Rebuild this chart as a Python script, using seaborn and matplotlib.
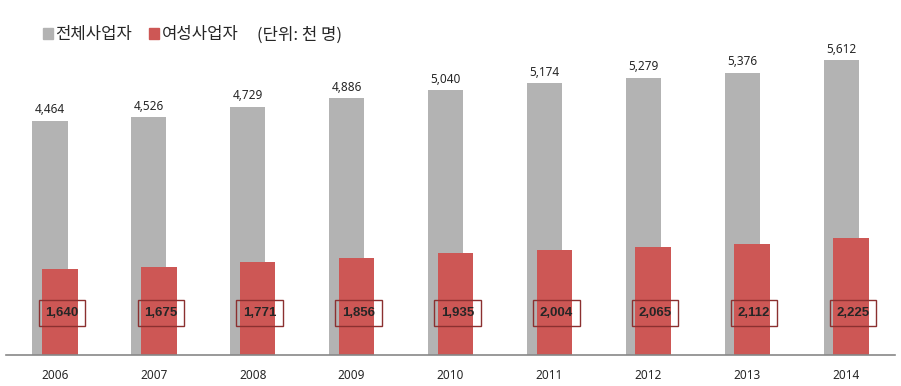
import seaborn as sns
import matplotlib.pyplot as plt
from matplotlib.patches import Patch
import numpy as np

years = ["2006", "2007", "2008", "2009", "2010", "2011", "2012", "2013", "2014"]
total = [4464, 4526, 4729, 4886, 5040, 5174, 5279, 5376, 5612]
women = [1640, 1675, 1771, 1856, 1935, 2004, 2065, 2112, 2225]
series_names = ["전체사업자", "여성사업자"]
unit_text = "(단위: 천 명)"

grey = "#B3B3B3"
red = "#CD5755"

sns.set_style("white")
plt.rcParams['font.family'] = ['Noto Sans CJK KR', 'DejaVu Sans']

fig = plt.figure(figsize=(9.01, 3.86), dpi=100)
ax = fig.add_axes([5.5 / 901, 31 / 386, 890 / 901, 315 / 386])

pos = np.arange(len(years))
off = 0.05
sns.barplot(x=pos - off, y=total, native_scale=True, width=0.354,
            color=grey, saturation=1, linewidth=0, ax=ax)
sns.barplot(x=pos + off, y=women, native_scale=True, width=0.36,
            color=red, saturation=1, linewidth=0, ax=ax)

for i in range(len(years)):
    ax.text(pos[i] - off, total[i] + 210, f"{total[i]:,}", ha="center", va="center",
            fontsize=8.5, family="Noto Sans")
    ax.text(pos[i] + off + 0.02, 800, f"{women[i]:,}", ha="center", va="center",
            fontsize=9.5, fontweight="bold", family="Liberation Sans",
            bbox=dict(boxstyle="square,pad=0.5", fc="none", ec="#8B3030", lw=1))

ax.set_xlim(-0.5, 8.5)
ax.set_ylim(0, 6000)
ax.set_xticks(pos)
ax.set_xticklabels(years, fontsize=8.5, family="Noto Sans")
ax.set_yticks([])
ax.tick_params(axis="x", length=0, pad=10)
for s in ["top", "right", "left"]:
    ax.spines[s].set_visible(False)
ax.spines["bottom"].set_color("#888888")
ax.spines["bottom"].set_linewidth(1.2)

handles = [Patch(color=grey), Patch(color=red)]
fig.legend(handles, series_names, loc="center left", bbox_to_anchor=(28 / 901, 1 - 35 / 386),
           ncol=2, frameon=False, fontsize=12, handlelength=0.6, handleheight=0.6,
           handletextpad=0.15, columnspacing=1.0)
fig.text(257 / 901, 1 - 35 / 386, unit_text, fontsize=12, va="center", ha="left")

fig.savefig("out.png", dpi=100)
